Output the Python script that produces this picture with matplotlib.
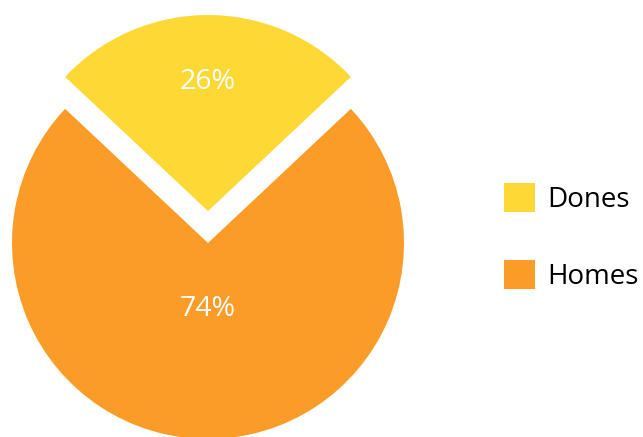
import numpy as np
import matplotlib
matplotlib.use("Agg")
import matplotlib.pyplot as plt

plt.rcParams['font.family'] = ['Open Sans', 'DejaVu Sans']

categories = ["Dones", "Homes"]
values = [26, 74]
colors = ["#FED834", "#FC9C28"]
explode = [0.163, 0.0]

W, H = 643, 437
fig = plt.figure(figsize=(W / 100, H / 100), dpi=100)
ax = fig.add_axes([0, 0, 1, 1])

# start so the first slice is centred at the top
start = 90 - values[0] / sum(values) * 360 / 2
wedges, _ = ax.pie(values, colors=colors, explode=explode, startangle=start,
                   counterclock=True, radius=1.0,
                   wedgeprops=dict(linewidth=0))

# pie centre at pixel (208, 243), radius 196 px
cx, cy, r = 208, 243, 196
ax.set_aspect('equal', adjustable='datalim')
ax.set_xlim(-cx / r, (W - cx) / r)
ax.set_ylim(-(H - cy) / r, cy / r)
ax.axis('off')

# percentage labels
label_dist = [0.66, 0.335]
total = sum(values)
for w, v, d, e in zip(wedges, values, label_dist, explode):
    ang = np.deg2rad((w.theta1 + w.theta2) / 2)
    x = (d + e) * np.cos(ang)
    y = (d + e) * np.sin(ang)
    ax.text(x, y, f"{v / total * 100:.0f}%", ha='center', va='center',
            color='white', fontsize=20.5)

handles = [plt.Rectangle((0, 0), 1, 1, facecolor=c, edgecolor='none') for c in colors]
leg = fig.legend(handles, categories, loc='center left',
                 bbox_to_anchor=(490 / W, 1 - 237 / H), frameon=False,
                 fontsize=20, handlelength=1.12, handleheight=1.25,
                 handletextpad=0.45, labelspacing=1.65, borderpad=0)

fig.savefig("out.png", dpi=100)
